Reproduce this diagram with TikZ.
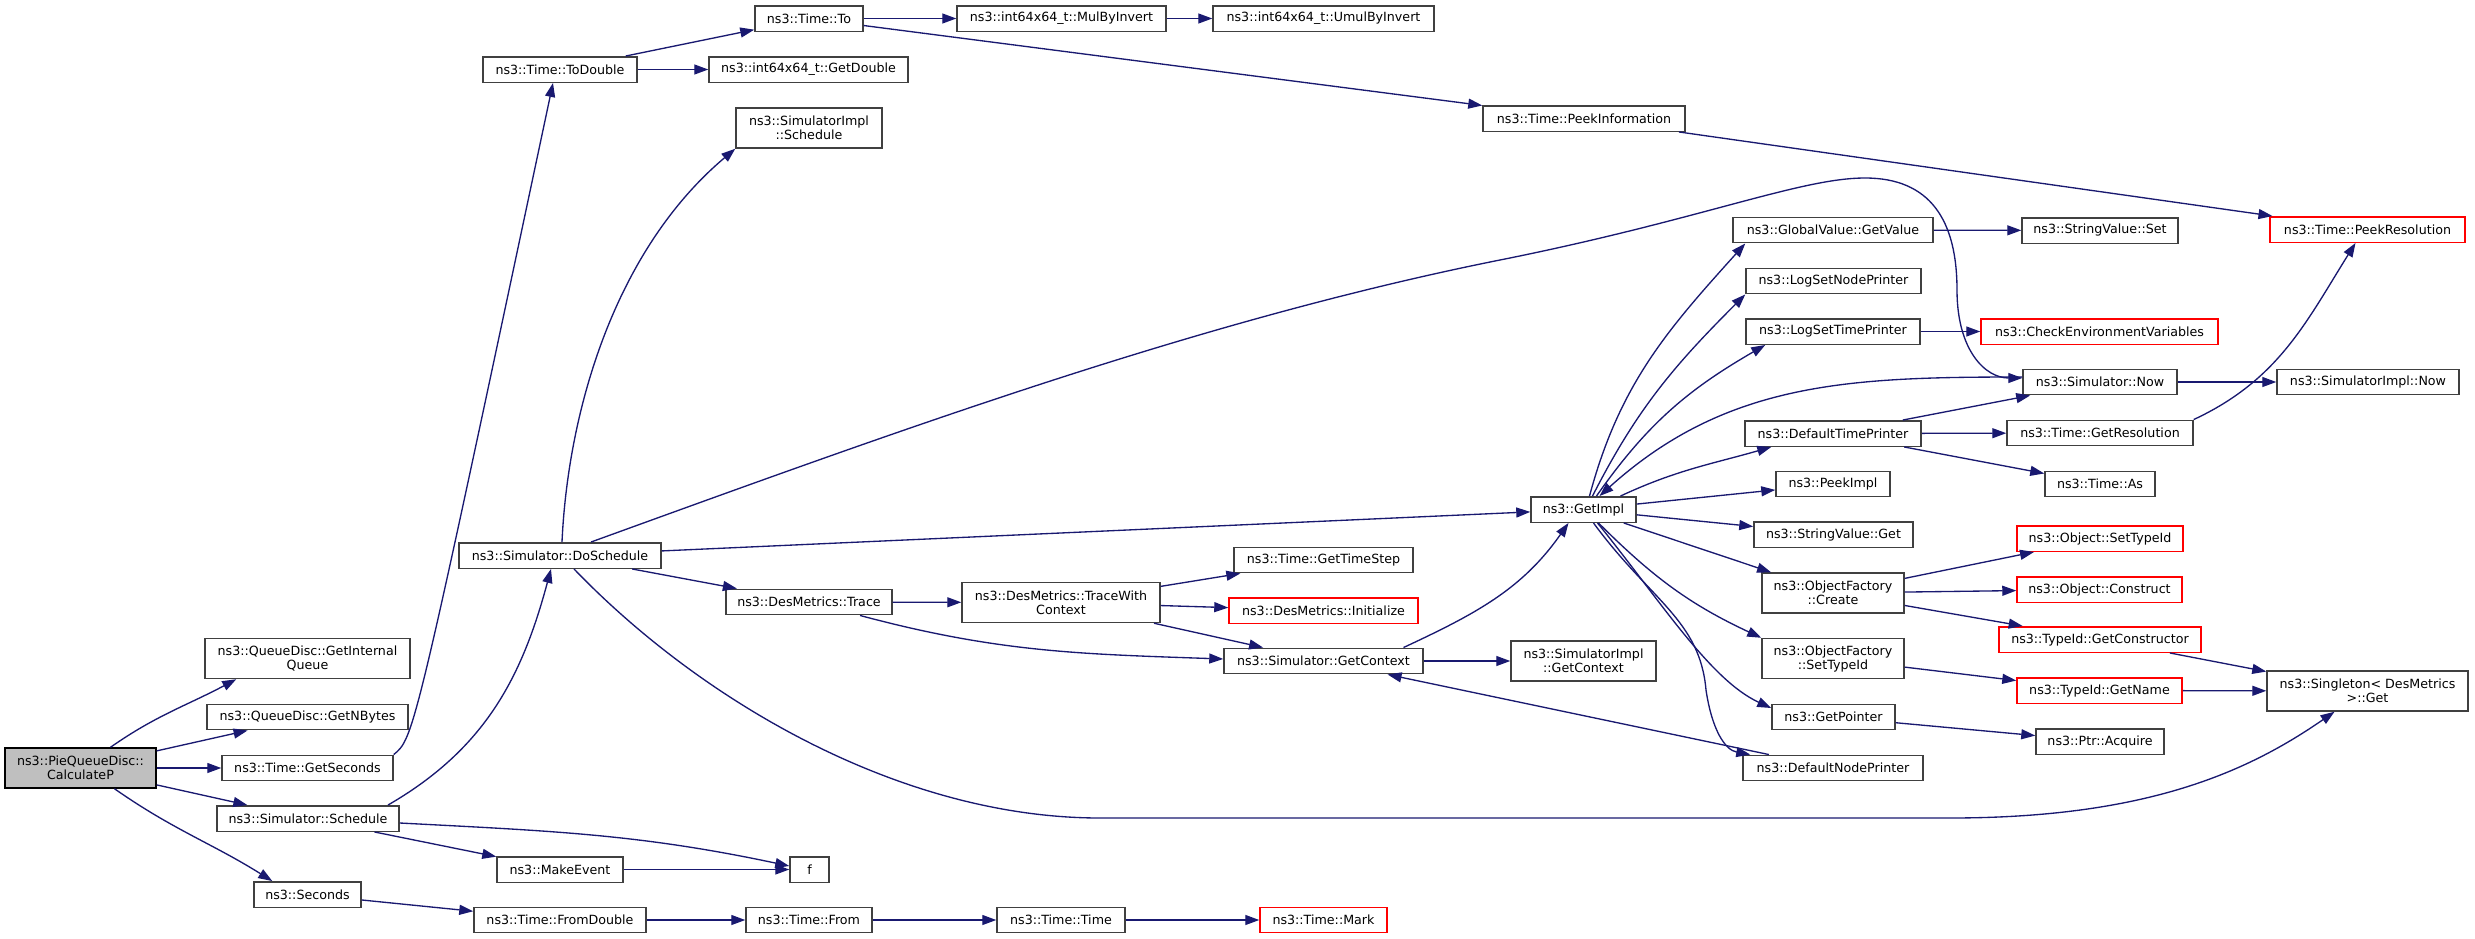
\documentclass[tikz,border=0pt]{standalone}
\usepackage{fontspec}
\setmainfont{DejaVu Sans}
\usetikzlibrary{arrows.meta,calc}
\definecolor{edgeblue}{RGB}{25,25,112}
\definecolor{boxgrey}{RGB}{64,64,64}
\definecolor{rootfill}{RGB}{191,191,191}
\definecolor{undocred}{RGB}{255,0,0}

\begin{document}
\begin{tikzpicture}[x=0.75pt,y=0.75pt,
	fn/.style={draw=boxgrey,line width=1.1pt,inner sep=0pt,minimum height=19.1pt,align=center,font=\fontsize{9.5}{10.5}\selectfont},
	fn2/.style={fn,minimum height=30pt},
	bw/.style={minimum width=#1*0.75pt},
	undoc/.style={draw=undocred},
	root/.style={fill=rootfill,draw=black},
	call/.style={draw=edgeblue,line width=1pt,-{Triangle[length=10.5pt,width=7.5pt]}}]
			\useasboundingbox (0,0) rectangle (2475,-939);
			
			% first column
			\node[fn2,root,bw=151] (calcp) at (80.5,-768) {ns3::PieQueueDisc::\\CalculateP};
			
			\node[fn2,bw=205] (getiq) at (307.5,-658.5) {ns3::QueueDisc::GetInternal\\Queue};
			\node[fn,bw=201] (getnb) at (307.5,-717) {ns3::QueueDisc::GetNBytes};
			\node[fn,bw=171] (getsec) at (307.5,-768) {ns3::Time::GetSeconds};
			\node[fn,bw=182] (sched) at (308,-818.5) {ns3::Simulator::Schedule};
			\node[fn,bw=107] (secs) at (307.5,-894.5) {ns3::Seconds};
			
			\node[fn,bw=154] (todbl) at (560,-69.5) {ns3::Time::ToDouble};
			\node[fn,bw=202] (dosched) at (560,-555.5) {ns3::Simulator::DoSchedule};
			\node[fn,bw=126] (mkev) at (560,-869.5) {ns3::MakeEvent};
			\node[fn,bw=172] (fromdbl) at (560,-920) {ns3::Time::FromDouble};
			
			\node[fn,bw=108] (timeto) at (809,-18.5) {ns3::Time::To};
			\node[fn,bw=199] (getdbl) at (808.5,-69.5) {ns3::int64x64\_t::GetDouble};
			\node[fn2,bw=146] (simimplsched) at (809,-128) {ns3::SimulatorImpl\\::Schedule};
			\node[fn,bw=166] (trace) at (809,-602) {ns3::DesMetrics::Trace};
			\node[fn,bw=39] (f) at (809.5,-869.5) {f};
			\node[fn,bw=126] (timefrom) at (809,-920) {ns3::Time::From};
			
			\node[fn,bw=209] (mulinv) at (1061.5,-18.5) {ns3::int64x64\_t::MulByInvert};
			\node[fn2,bw=198] (tracectx) at (1061,-602.5) {ns3::DesMetrics::TraceWith\\Context};
			\node[fn,bw=128] (timetime) at (1061,-920) {ns3::Time::Time};
			
			\node[fn,bw=221] (umulinv) at (1323.5,-18.5) {ns3::int64x64\_t::UmulByInvert};
			\node[fn,bw=179] (timestep) at (1323.5,-560) {ns3::Time::GetTimeStep};
			\node[fn,undoc,bw=189] (dminit) at (1323.5,-610.5) {ns3::DesMetrics::Initialize};
			\node[fn,bw=199] (getctx) at (1323.5,-661) {ns3::Simulator::GetContext};
			\node[fn,undoc,bw=127] (timemark) at (1323.5,-920) {ns3::Time::Mark};
			
			\node[fn,bw=202] (peekinfo) at (1584,-118.5) {ns3::Time::PeekInformation};
			\node[fn,bw=105] (getimpl) at (1583.5,-509.5) {ns3::GetImpl};
			\node[fn2,bw=145] (simimplctx) at (1583.5,-661) {ns3::SimulatorImpl\\::GetContext};
			
			\node[fn,bw=200] (getvalue) at (1833,-230) {ns3::GlobalValue::GetValue};
			\node[fn,bw=175] (lognode) at (1833.5,-281) {ns3::LogSetNodePrinter};
			\node[fn,bw=174] (logtime) at (1833,-331.5) {ns3::LogSetTimePrinter};
			\node[fn,bw=176] (deftime) at (1833,-433.5) {ns3::DefaultTimePrinter};
			\node[fn,bw=114] (peekimpl) at (1833,-484) {ns3::PeekImpl};
			\node[fn,bw=159] (strget) at (1833.5,-534.5) {ns3::StringValue::Get};
			\node[fn2,bw=142] (ofcreate) at (1833,-593) {ns3::ObjectFactory\\::Create};
			\node[fn2,bw=142] (ofsettid) at (1833,-658.5) {ns3::ObjectFactory\\::SetTypeId};
			\node[fn,bw=123] (getptr) at (1833.5,-717) {ns3::GetPointer};
			\node[fn,bw=180] (defnode) at (1833,-768) {ns3::DefaultNodePrinter};
			
			\node[fn,bw=156] (strset) at (2100,-230.5) {ns3::StringValue::Set};
			\node[fn,undoc,bw=237] (checkenv) at (2099.5,-331.5) {ns3::CheckEnvironmentVariables};
			\node[fn,bw=154] (simnow) at (2100,-382) {ns3::Simulator::Now};
			\node[fn,bw=186] (getres) at (2100,-433) {ns3::Time::GetResolution};
			\node[fn,bw=110] (timeas) at (2100,-484) {ns3::Time::As};
			\node[fn,undoc,bw=166] (objsettid) at (2100,-538.5) {ns3::Object::SetTypeId};
			\node[fn,undoc,bw=165] (objcons) at (2099.5,-589.5) {ns3::Object::Construct};
			\node[fn,undoc,bw=202] (getcons) at (2100,-639.5) {ns3::TypeId::GetConstructor};
			\node[fn,undoc,bw=165] (getname) at (2099.5,-690.5) {ns3::TypeId::GetName};
			\node[fn,bw=128] (ptracq) at (2100,-741.5) {ns3::Ptr::Acquire};
			
			\node[fn,undoc,bw=195] (peekres) at (2367.5,-229.5) {ns3::Time::PeekResolution};
			\node[fn,bw=182] (simimplnow) at (2368,-382) {ns3::SimulatorImpl::Now};
			\node[fn2,bw=201] (singleton) at (2367.5,-691) {ns3::Singleton< DesMetrics\\>::Get};
			
			% calls
			\draw[call] ($(calcp.north)+(30,0)$) to[out=35,in=208] ($(getiq.south west)+(32,0)$);
			\draw[call] (calcp) -- (getnb);
			\draw[call] (calcp) -- (getsec);
			\draw[call] (calcp) -- (sched);
			\draw[call] ($(calcp.south)+(34,0)$) to[out=-35,in=148] ($(secs.north west)+(19,0)$);
			
			\draw[call] (getsec.north east) .. controls (414,-738) .. ($(todbl.south)+(-7,0)$);
			\draw[call] (todbl) -- (timeto);
			\draw[call] (todbl) -- (getdbl);
			\draw[call] (timeto) -- (mulinv);
			\draw[call] (mulinv) -- (umulinv);
			\draw[call] (timeto) -- (peekinfo);
			\draw[call] (peekinfo) -- (peekres);
			
			\draw[call] ($(sched.north)+(80,0)$) to[out=30,in=-105] ($(dosched.south)+(-9,0)$);
			\draw[call] ($(sched.east)+(0,-4.5)$) to[out=-3,in=168] ($(f.west)+(0,3.5)$);
			\draw[call] (sched) -- (mkev);
			\draw[call] (mkev) -- (f);
			\draw[call] (secs) -- (fromdbl);
			\draw[call] (fromdbl) -- (timefrom);
			\draw[call] (timefrom) -- (timetime);
			\draw[call] (timetime) -- (timemark);
			
			\draw[call] ($(dosched.north)+(2,0)$) .. controls (568,-410) and (615,-250) .. (simimplsched.south west);
			\draw[call] ($(dosched.north)+(31,0)$) .. controls (900,-430) and (1200,-320) .. (1500,-260)
				.. controls (1700,-220) and (1800,-178) .. (1865,-178)
				.. controls (1930,-178) and (1957,-220) .. (1957,-290)
				.. controls (1957,-350) and (1985,-378) .. ($(simnow.west)+(0,4)$);
			\draw[call] (dosched) -- (getimpl);
			\draw[call] (dosched) -- (trace);
			\draw[call] ($(dosched.south)+(14,0)$) .. controls (700,-700) and (900,-818) .. (1100,-818) -- (1950,-818)
				.. controls (2150,-818) and (2250,-770) .. ($(singleton.south)+(-33,0)$);
			
			\draw[call] (trace) -- (tracectx);
			\draw[call] ($(trace.south)+(51,0)$) to[out=-15,in=178] ($(getctx.west)+(0,2)$);
			\draw[call] (tracectx) -- (timestep);
			\draw[call] (tracectx) -- (dminit);
			\draw[call] (tracectx) -- (getctx);
			\draw[call] ($(getctx.north)+(80,0)$) to[out=25,in=-125] ($(getimpl.south)+(-15,0)$);
			\draw[call] (getctx) -- (simimplctx);
			\draw[call] (defnode) -- (getctx);
			
			\draw[call] ($(getimpl.north)+(6,0)$) to[out=75,in=-132] ($(getvalue.south west)+(13,0)$);
			\draw[call] ($(getimpl.north)+(9,0)$) to[out=63,in=-135] (lognode.south west);
			\draw[call] ($(getimpl.north)+(13,0)$) to[out=55,in=-150] ($(logtime.south west)+(20,0)$);
			\draw[call] ($(simnow.west)+(0,5)$) to[out=180,in=42] ($(getimpl.north)+(16,0)$);
			\draw[call] ($(getimpl.north)+(37,0)$) to[out=25,in=196] ($(deftime.south west)+(27,0)$);
			\draw[call] (getimpl) -- (peekimpl);
			\draw[call] (getimpl) -- (strget);
			\draw[call] (getimpl) -- (ofcreate);
			\draw[call] ($(getimpl.south)+(15,0)$) to[out=-45,in=155] (ofsettid.north west);
			\draw[call] ($(getimpl.south)+(14,0)$) .. controls (1660,-600) and (1710,-680) .. ($(getptr.west)+(0,9)$);
			\draw[call] ($(getimpl.south)+(10,0)$) .. controls (1650,-600) and (1700,-620) .. (1706,-690)
				.. controls (1712,-730) and (1725,-750) .. ($(defnode.north west)+(8,0)$);
			
			\draw[call] (getvalue) -- (strset);
			\draw[call] (logtime) -- (checkenv);
			\draw[call] (deftime) -- (simnow);
			\draw[call] (deftime) -- (getres);
			\draw[call] (deftime) -- (timeas);
			\draw[call] (simnow) -- (simimplnow);
			\draw[call] (getres.north east) to[out=25,in=-122] ($(peekres.south)+(-12,0)$);
			\draw[call] (ofcreate) -- (objsettid);
			\draw[call] (ofcreate) -- (objcons);
			\draw[call] (ofcreate) -- (getcons);
			\draw[call] (ofsettid) -- (getname);
			\draw[call] (getptr) -- (ptracq);
			\draw[call] (getcons) -- (singleton);
			\draw[call] (getname) -- (singleton);
			\end{tikzpicture}
\end{document}
